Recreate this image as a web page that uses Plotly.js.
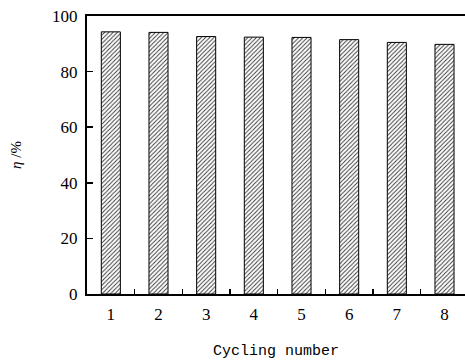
<!DOCTYPE html>
<html>
<head>
<meta charset="utf-8">
<script src="https://cdn.plot.ly/plotly-3.0.1.min.js"></script>
<style>html,body{margin:0;padding:0;background:#fff;}</style>
</head>
<body>
<div id="chart" style="width:465px;height:360px;"></div>
<script>
var cycles = [1, 2, 3, 4, 5, 6, 7, 8];
var efficiency = [94.3, 94.1, 92.6, 92.4, 92.3, 91.5, 90.5, 89.8];
var xTitle = "Cycling number";
var yTitle = "<i>η</i> /%";

var trace = {
  type: "bar",
  x: cycles,
  y: efficiency,
  width: 0.4,
  marker: {
    color: "white",
    line: {color: "#000", width: 1},
    pattern: {shape: "/", fgcolor: "#333", bgcolor: "white", size: 3, solidity: 0.3}
  },
  hoverinfo: "none"
};

var layout = {
  width: 465, height: 360,
  margin: {l: 87, r: 0, t: 16, b: 66},
  paper_bgcolor: "white", plot_bgcolor: "white",
  showlegend: false,
  xaxis: {
    range: [0.5, 8.43],
    tickmode: "linear", tick0: 1, dtick: 1,
    ticks: "inside", ticklen: 0, tickwidth: 0.01, tickcolor: "rgba(0,0,0,0)",
    ticklabelstandoff: 4,
    showgrid: false, zeroline: false,
    showline: true, linecolor: "#000", linewidth: 2, mirror: true,
    tickfont: {family: "Liberation Serif, serif", size: 17, color: "#000"},
    minor: {tick0: 0.5, dtick: 1, ticks: "inside", ticklen: 5, tickwidth: 1.5, tickcolor: "#000", showgrid: false},
    title: {text: xTitle, font: {family: "Liberation Mono, monospace", size: 15, color: "#000"}, standoff: 26}
  },
  yaxis: {
    range: [0, 100],
    tickmode: "linear", tick0: 0, dtick: 20,
    ticks: "inside", ticklen: 6, tickwidth: 1.5, tickcolor: "#000",
    ticklabelstandoff: 4,
    showgrid: false, zeroline: false,
    showline: true, linecolor: "#000", linewidth: 2, mirror: false,
    tickfont: {family: "Liberation Serif, serif", size: 17, color: "#000"},
    title: {text: yTitle, font: {family: "Liberation Serif, serif", size: 15, color: "#000"}, standoff: 27}
  }
};

Plotly.newPlot("chart", [trace], layout, {staticPlot: true, displayModeBar: false});
</script>
</body>
</html>
